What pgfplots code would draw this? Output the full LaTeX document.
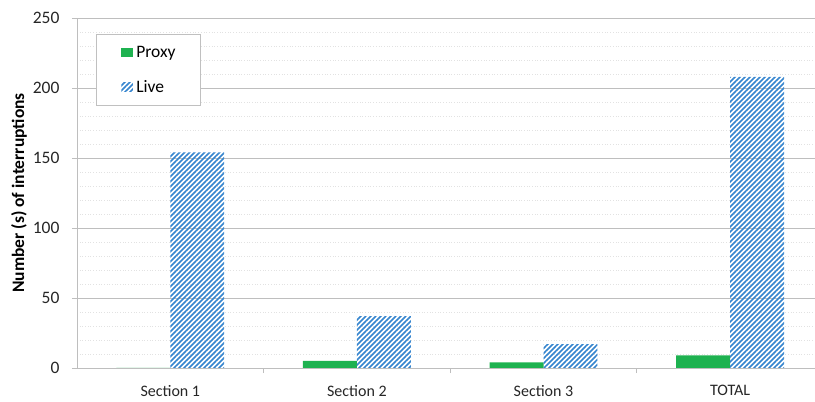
\documentclass[border=0pt]{standalone}
\usepackage{pgfplots}
\pgfplotsset{compat=1.18}
\usetikzlibrary{patterns.meta}
\usepackage{fontspec}
\setmainfont{Carlito}

\definecolor{proxygreen}{RGB}{30,178,80}
\definecolor{liveblue}{RGB}{52,132,206}
\definecolor{gridmajor}{RGB}{190,190,190}
\definecolor{gridminor}{RGB}{226,226,226}

\begin{document}
\begin{tikzpicture}
\useasboundingbox (0,0) rectangle (815bp,402bp);
\begin{axis}[
  at={(77bp,34bp)}, anchor=south west,
  scale only axis,
  width=738bp, height=350bp,
  xmin=-0.5, xmax=3.455,
  ymin=0, ymax=250,
  ytick={0,50,...,250},
  minor y tick num=4,
  ymajorgrids, yminorgrids,
  major grid style={gridmajor, line width=0.9bp},
  minor grid style={gridminor, line width=0.7bp, dotted},
  axis x line=bottom, axis y line=left,
  axis line style={-, gridmajor, line width=0.9bp},
  tick align=outside,
  major tick length=5bp, minor tick length=0pt,
  tick style={gridmajor, line width=0.9bp},
  xtick={0.5,1.5,2.5}, xticklabels={},
  extra x ticks={0,1,2,3},
  extra x tick labels={Section 1, Section 2, Section 3, TOTAL},
  extra x tick style={major tick length=0pt,
    xticklabel style={yshift=-14bp, font=\fontsize{16bp}{19bp}\selectfont}},
  /pgf/number format/assume math mode=true,
  tick label style={text=black!85},
  yticklabel style={xshift=-9bp, font=\fontsize{17.5bp}{20bp}\selectfont},
  ylabel={Number (s) of interruptions},
  ylabel style={font=\fontsize{17.5bp}{20bp}\selectfont\bfseries,
    at={(axis description cs:-0.0786,0.5)}, anchor=center},
  legend style={at={(axis description cs:0.0257,0.954)}, anchor=north west,
    draw=gridminor!85!black, fill=white, line width=0.8bp,
    font=\fontsize{17.5bp}{20bp}\selectfont,
    nodes={inner sep=0pt},
    inner xsep=25bp, inner ysep=11.5bp, row sep=21.5bp,
    /tikz/every odd column/.append style={column sep=3.5bp}},
  legend cell align=left,
  legend image code/.code={\path[#1] (0bp,-4.2bp) rectangle (11.5bp,4.2bp);},
]
% Proxy runs
\addplot[ybar, draw=none, fill=proxygreen, bar width=0.289, bar shift=-0.1445]
  coordinates {(0,0) (1,5) (2,4) (3,9)};
\addlegendentry{Proxy}
% Live runs
\addplot[ybar, draw=none, pattern={Lines[angle=45, distance=3.5355bp, line width=1.6bp]},
  pattern color=liveblue, bar width=0.289, bar shift=0.1445]
  coordinates {(0,154) (1,37) (2,17) (3,208)};
\addlegendentry{Live}
\end{axis}
\end{tikzpicture}
\end{document}
